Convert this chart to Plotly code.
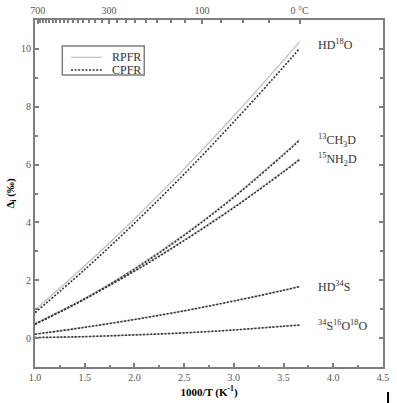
import plotly.graph_objects as go

# ---- data ----
inv_T = [1.0, 1.5, 2.0, 2.5, 3.0, 3.5, 3.661]

hd18o_rpfr = [0.97, 2.50, 4.12, 5.85, 7.68, 9.61, 10.25]
hd18o_cpfr = [0.88, 2.37, 3.97, 5.67, 7.48, 9.38, 10.02]

ch3d_rpfr = [0.50, 1.38, 2.41, 3.58, 4.90, 6.37, 6.87]
ch3d_cpfr = [0.48, 1.35, 2.38, 3.55, 4.87, 6.34, 6.84]

nh2d_rpfr = [0.50, 1.37, 2.33, 3.39, 4.53, 5.77, 6.19]
nh2d_cpfr = [0.48, 1.35, 2.31, 3.37, 4.51, 5.75, 6.17]

hd34s_rpfr = [0.14, 0.38, 0.65, 0.95, 1.29, 1.66, 1.79]
hd34s_cpfr = [0.13, 0.37, 0.64, 0.94, 1.28, 1.65, 1.78]

so2_rpfr = [0.02, 0.05, 0.11, 0.18, 0.28, 0.41, 0.45]
so2_cpfr = [0.02, 0.05, 0.11, 0.18, 0.28, 0.41, 0.45]

species_labels = ["HD<sup>18</sup>O", "<sup>13</sup>CH<sub>3</sub>D",
                  "<sup>15</sup>NH<sub>2</sub>D", "HD<sup>34</sup>S",
                  "<sup>34</sup>S<sup>16</sup>O<sup>18</sup>O"]
label_y = [10.14, 6.84, 6.19, 1.79, 0.45]

legend_names = ["RPFR", "CPFR"]

top_major_C = [700, 300, 100, 0]
top_major_text = ["700", "300", "100", "0 °C"]
top_minor_C = list(range(700, -1, -25))

x_range = [1.0, 4.5]
y_range = [-1, 11]

FONT = "Liberation Serif"
AXC = "#7f7f7f"
RCOL = "#bdbdbd"
CCOL = "#333333"
CDASH = "2px,1.6px"

def c2inv(c):
    return 1000.0 / (c + 273.15)

fig = go.Figure()

pairs = [(hd18o_rpfr, hd18o_cpfr), (ch3d_rpfr, ch3d_cpfr), (nh2d_rpfr, nh2d_cpfr),
         (hd34s_rpfr, hd34s_cpfr), (so2_rpfr, so2_cpfr)]

for r, c in pairs:
    fig.add_trace(go.Scatter(x=inv_T, y=r, mode="lines", line_shape="spline",
                             line=dict(color=RCOL, width=1.2),
                             name=legend_names[0], showlegend=False))
for r, c in pairs:
    fig.add_trace(go.Scatter(x=inv_T, y=c, mode="lines", line_shape="spline",
                             line=dict(color=CCOL, width=1.6, dash=CDASH),
                             name=legend_names[1], showlegend=False))

# invisible trace to activate top axis
fig.add_trace(go.Scatter(x=x_range, y=[0, 0], xaxis="x2", mode="markers",
                         marker=dict(opacity=0), showlegend=False, hoverinfo="skip"))

for txt, yv in zip(species_labels, label_y):
    fig.add_annotation(x=3.83, y=yv, text=txt, showarrow=False, xanchor="left",
                       yanchor="middle", font=dict(family=FONT, size=12, color="#333333"))

# legend box (drawn manually to match compact spacing)
fig.add_shape(type="rect", xref="paper", yref="paper", x0=0.0784, x1=0.314,
              y0=0.8415, y1=0.925, line=dict(color=AXC, width=1.5), fillcolor="white")
fig.add_shape(type="line", xref="paper", yref="paper", x0=0.1034, x1=0.1917,
              y0=0.8925, y1=0.8925, line=dict(color=RCOL, width=1.2))
fig.add_shape(type="line", xref="paper", yref="paper", x0=0.1034, x1=0.1917,
              y0=0.856, y1=0.856, line=dict(color=CCOL, width=1.6, dash=CDASH))
for name, yv in zip(legend_names, [0.8925, 0.856]):
    fig.add_annotation(xref="paper", yref="paper", x=0.2155, y=yv, text=name,
                       showarrow=False, xanchor="left", yanchor="middle",
                       font=dict(family=FONT, size=12, color="#333333"))

fig.add_shape(type="line", xref="paper", yref="paper", x0=1.0145, x1=1.0145,
              y0=-0.072, y1=-0.104, line=dict(color="black", width=2))

fig.update_layout(
    width=397, height=403,
    margin=dict(l=35, r=14, t=20, b=36),
    paper_bgcolor="white", plot_bgcolor="white",
    showlegend=False,
    font=dict(family=FONT, size=10, color="#555555"),
    xaxis=dict(range=x_range, showgrid=False, zeroline=False, showline=True,
               automargin=False,
               linecolor=AXC, linewidth=2, ticks="inside", ticklen=4, tickcolor=AXC,
               tickwidth=1.5, tickvals=[1.0, 1.5, 2.0, 2.5, 3.0, 3.5, 4.0, 4.5],
               tickformat=".1f",
               minor=dict(tickvals=[1.25, 1.75, 2.25, 2.75, 3.25, 3.75, 4.25],
                          ticks="inside", ticklen=2.5, tickcolor=AXC),
               title=dict(text="<b>1000/T (K<sup>-1</sup>)</b>",
                          font=dict(family=FONT, size=11, color="black"), standoff=6)),
    xaxis2=dict(range=x_range, overlaying="x", side="top", showgrid=False,
                automargin=False,
                zeroline=False, showline=True, linecolor=AXC, linewidth=2,
                ticks="inside", ticklen=4, tickcolor=AXC, tickwidth=1.5,
                tickvals=[c2inv(c) for c in top_major_C], ticktext=top_major_text,
                minor=dict(tickvals=[c2inv(c) for c in top_minor_C],
                           ticks="inside", ticklen=2.5, tickcolor=AXC)),
    yaxis=dict(range=y_range, showgrid=False, zeroline=False, showline=True,
               automargin=False,
               linecolor=AXC, linewidth=2, mirror="ticks", ticks="inside", ticklen=4,
               tickcolor=AXC, tickwidth=1.5, tickvals=[0, 2, 4, 6, 8, 10],
               minor=dict(tickvals=[-1, 1, 3, 5, 7, 9, 11], ticks="inside",
                          ticklen=3, tickcolor=AXC),
               title=dict(text="<b>Δ<sub>i</sub> (‰)</b>",
                          font=dict(family=FONT, size=11, color="black"), standoff=4)),
)

fig.write_html("out.html", config={"displayModeBar": False},
               post_script="document.body.style.margin='0';")
